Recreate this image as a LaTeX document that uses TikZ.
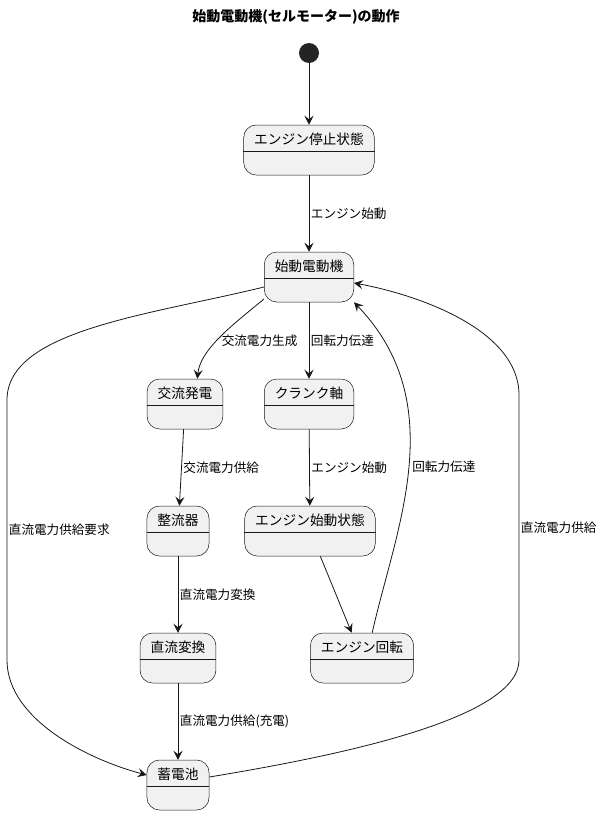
\documentclass[tikz,border=0pt]{standalone}
\usepackage{fontspec}
\setmainfont{Noto Sans CJK JP}
\usepackage{tikz}
\usetikzlibrary{positioning, arrows.meta, shapes}
\definecolor{statefill}{HTML}{F1F1F1}
\definecolor{linecol}{HTML}{181818}
\tikzstyle{arrow} = [line width=0.8pt, draw=linecol, -{Stealth[length=9pt, width=9pt, inset=3.5pt]}]
\tikzstyle{statebox} = [rectangle, rounded corners=12.5pt, draw=linecol, line width=0.5pt, fill=statefill, inner xsep=10.5pt, inner ysep=6pt, text height=13pt, text depth=25pt, font=\fontsize{13.7}{16}\selectfont]
\tikzstyle{divider} = [draw=linecol, line width=0.5pt]
\tikzstyle{edgelabel} = [anchor=west, inner sep=1.5pt, font=\fontsize{12.6}{15}\selectfont]
\tikzstyle{startdot} = [circle, fill=linecol!95, minimum size=20pt, inner sep=0pt]

\begin{document}
\begin{tikzpicture}[x=1pt, y=-1pt, node distance=127pt]
    \useasboundingbox (0,0) rectangle (605,814);
    \node (title) at (296,17) {\fontsize{14}{17}\selectfont\bfseries 始動電動機(セルモーター)の動作};
    \node (init) [startdot] at (309,53) {};
    \node (stop) [statebox, below of=init, yshift=30pt] {エンジン停止状態};
    \node (starter) [statebox, below of=stop] {始動電動機};
    \node (acgen) [statebox, below of=starter, xshift=-124pt] {交流発電};
    \node (crank) [statebox, below of=starter] {クランク軸};
    \node (rect) [statebox, below of=acgen, xshift=-7pt] {整流器};
    \node (engstart) [statebox, below of=crank, xshift=1pt] {エンジン始動状態};
    \node (dcconv) [statebox, below of=rect] {直流変換};
    \node (engrot) [statebox, below of=engstart, xshift=52pt] {エンジン回転};
    \node (battery) [statebox, below of=dcconv] {蓄電池};

    % bends of the two long loops
    \coordinate (leftTop) at (7,400);
    \coordinate (leftBot) at (7,660);
    \coordinate (rightBot) at (519,660);
    \coordinate (rightTop) at (519,395);

    \foreach \n in {stop, starter, acgen, crank, rect, engstart, dcconv, engrot, battery}
        \draw [divider] ([yshift=-26pt]\n.north west) -- ([yshift=-26pt]\n.north east);

    \draw [arrow] (init) -- (stop);
    \draw [arrow] (stop) -- node[edgelabel]{エンジン始動} (starter);
    \draw [arrow] (starter) -- node[edgelabel]{回転力伝達} (crank);
    \draw [arrow] (starter.206) .. controls +(-30,25) and +(3,-30) .. node[edgelabel, pos=0.55, xshift=3pt]{交流電力生成} (acgen.64);
    \draw [arrow] (acgen) -- node[edgelabel]{交流電力供給} (rect);
    \draw [arrow] (crank) -- node[edgelabel]{エンジン始動} (engstart);
    \draw [arrow] (rect) -- node[edgelabel]{直流電力変換} (dcconv);
    \draw [arrow] (dcconv) -- node[edgelabel]{直流電力供給(充電)} (battery);
    \draw [arrow] (engstart) -- (engrot);
    \draw [arrow] (engrot.68) .. controls +(23,-103) and +(98,102) .. node[edgelabel, pos=0.5, xshift=2pt]{回転力伝達} (starter.south east);
    \draw [arrow] ([yshift=-10pt]starter.west) .. controls +(-114,28) and +(0,-70) .. (leftTop)
        -- node[edgelabel]{直流電力供給要求} (leftBot)
        .. controls +(0,60) and +(-57,-15) .. ([yshift=10pt]battery.west);
    \draw [arrow] ([yshift=8pt]battery.east) .. controls +(121,-20) and +(0,60) .. (rightBot)
        -- node[edgelabel]{直流電力供給} (rightTop)
        .. controls +(0,-65) and +(65,12) .. ([yshift=-6pt]starter.east);
\end{tikzpicture}
\end{document}
